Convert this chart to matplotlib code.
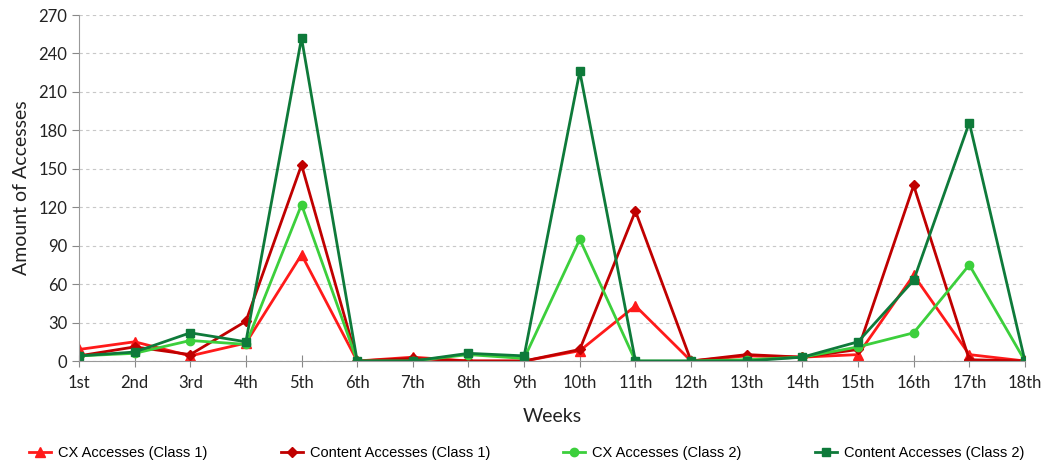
import matplotlib
matplotlib.use("Agg")
import matplotlib.pyplot as plt

weeks = ["1st", "2nd", "3rd", "4th", "5th", "6th", "7th", "8th", "9th",
         "10th", "11th", "12th", "13th", "14th", "15th", "16th", "17th", "18th"]

cx_class1 = [9, 15, 4, 14, 83, 0, 3, 0, 0, 8, 43, 0, 4, 3, 5, 67, 5, 0]
content_class1 = [4, 11, 5, 31, 153, 0, 2, 0, 0, 9, 117, 0, 5, 3, 9, 137, 1, 0]
cx_class2 = [4, 6, 16, 13, 122, 0, 0, 5, 2, 95, 0, 0, 1, 3, 11, 22, 75, 0]
content_class2 = [4, 7, 22, 15, 252, 0, 0, 6, 4, 226, 0, 0, 0, 3, 15, 63, 186, 0]

series = [
    ("CX Accesses (Class 1)", cx_class1, "#ff1a1a", "^", 7),
    ("Content Accesses (Class 1)", content_class1, "#c00000", "D", 5),
    ("CX Accesses (Class 2)", cx_class2, "#3ccf3c", "o", 6),
    ("Content Accesses (Class 2)", content_class2, "#0e7a3a", "s", 6),
]

plt.rcParams["font.family"] = ["Lato", "DejaVu Sans"]

fig = plt.figure(figsize=(10.43, 4.66), dpi=100)
ax = fig.add_axes([0.0757, 0.2253, 0.907, 0.7425])

x = list(range(len(weeks)))
for label, vals, color, marker, ms in series:
    ax.plot(x, vals, color=color, marker=marker, markersize=ms,
            linewidth=2, label=label)

ax.set_xlim(0, len(weeks) - 1)
ax.set_ylim(0, 270)
ax.set_yticks(range(0, 271, 30))
ax.set_xticks(x)
ax.set_xticklabels(weeks)
ax.tick_params(axis="both", labelsize=12, colors="#888888", labelcolor="#222222")
ax.tick_params(axis="x", direction="inout", length=8, pad=6)
ax.tick_params(axis="y", direction="out", length=5)

ax.grid(axis="y", linestyle=(0, (3, 3)), color="#c8c8c8", linewidth=0.8)
ax.set_axisbelow(True)
for side in ("top", "right"):
    ax.spines[side].set_visible(False)
for side in ("left", "bottom"):
    ax.spines[side].set_color("#999999")

ax.set_xlabel("Weeks", fontsize=14, color="#222222", labelpad=12)
ax.set_ylabel("Amount of Accesses", fontsize=14, color="#222222", labelpad=6)

handles, labels = ax.get_legend_handles_labels()
fig.legend(handles, labels, loc="lower center", ncol=4, frameon=False,
           bbox_to_anchor=(0.505, -0.015), columnspacing=5.0,
           handlelength=1.5, handletextpad=0.5,
           prop={"family": ["Liberation Sans", "DejaVu Sans"], "size": 10.5})

fig.savefig("out.png", dpi=100)
